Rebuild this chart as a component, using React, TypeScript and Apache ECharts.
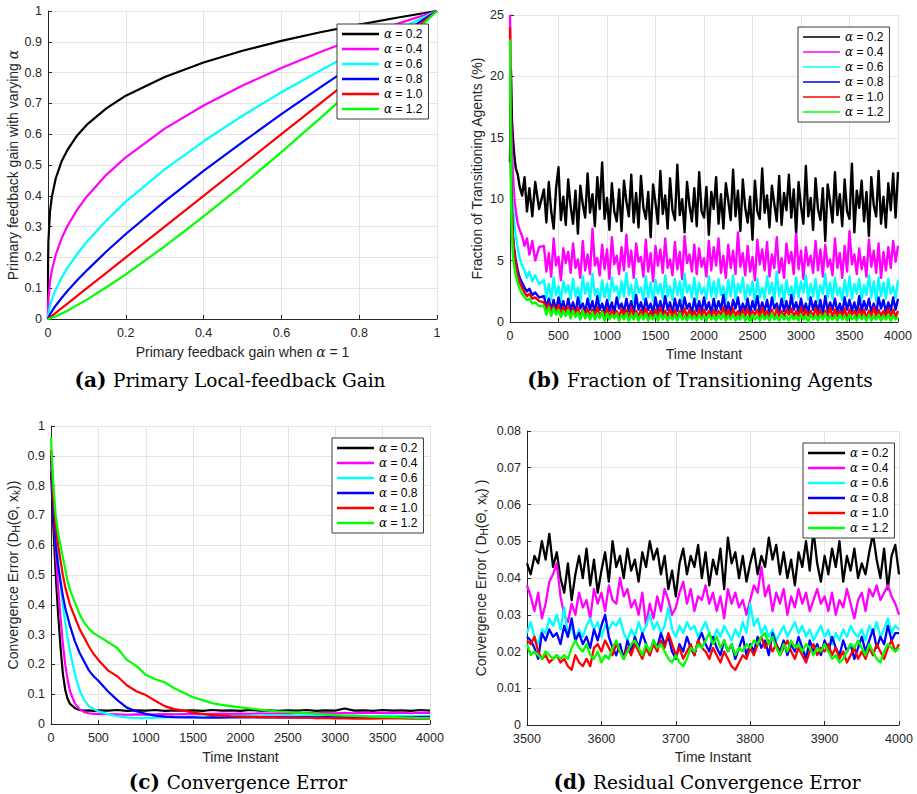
import React, { useEffect, useRef } from "react";
import * as echarts from "echarts";

const COLORS = ["#000000", "#ff00ff", "#00ffff", "#0000ff", "#ff0000", "#00ff00"];
const NAMES = ["α = 0.2", "α = 0.4", "α = 0.6", "α = 0.8", "α = 1.0", "α = 1.2"];

// ---------- (a) Primary local-feedback gain ----------
const A_X = [0, 0.0002, 0.001, 0.005, 0.01, 0.02, 0.035, 0.05, 0.075, 0.1, 0.15, 0.2, 0.3, 0.4, 0.5, 0.6, 0.7, 0.8, 0.9, 1];
const A_02 = [0, 0.182, 0.251, 0.347, 0.398, 0.457, 0.512, 0.549, 0.596, 0.631, 0.684, 0.725, 0.786, 0.833, 0.871, 0.903, 0.931, 0.956, 0.979, 1];
const A_04 = [0, 0.033, 0.063, 0.12, 0.158, 0.209, 0.262, 0.302, 0.355, 0.398, 0.468, 0.525, 0.618, 0.693, 0.758, 0.815, 0.867, 0.915, 0.959, 1];
const A_06 = [0, 0.006, 0.016, 0.042, 0.063, 0.096, 0.134, 0.166, 0.211, 0.251, 0.32, 0.381, 0.486, 0.577, 0.66, 0.736, 0.807, 0.875, 0.939, 1];
const A_08 = [0, 0.001, 0.004, 0.014, 0.025, 0.044, 0.068, 0.091, 0.126, 0.158, 0.219, 0.276, 0.382, 0.481, 0.574, 0.665, 0.752, 0.837, 0.919, 1];
const A_10 = [0, 0.0002, 0.001, 0.005, 0.01, 0.02, 0.035, 0.05, 0.075, 0.1, 0.15, 0.2, 0.3, 0.4, 0.5, 0.6, 0.7, 0.8, 0.9, 1];
const A_12 = [0, 0.00004, 0.0003, 0.0017, 0.004, 0.009, 0.018, 0.027, 0.045, 0.063, 0.103, 0.145, 0.236, 0.333, 0.435, 0.542, 0.652, 0.765, 0.881, 1];

// ---------- (b) Fraction of transitioning agents (%) ----------
const B_T_EARLY = [0, 10, 20, 30, 45, 60, 80, 100, 125, 150, 175, 200, 230, 260, 300];
const B_T_START = 350; // steady part sampled every 25 time instants, 350..4000
const B_T_STEP = 25;
const B_02 = [
  13, 20.5, 16.5, 15, 13.5, 12.5, 12, 11, 10.3, 11.8, 9.0, 10.9, 8.6, 11.4, 9.2,
  10.8, 8.1, 11.4, 9.0, 7.6, 10.9, 12.6, 8.3, 10.2, 7.9,
  11.6, 9.4, 8.0, 10.7, 7.2, 11.1, 9.6, 8.5, 12.1, 8.9,
  10.4, 7.8, 11.8, 9.2, 13.0, 8.4, 10.1, 7.5, 11.3, 9.0,
  8.2, 10.8, 7.4, 11.5, 9.8, 8.6, 12.0, 8.1, 10.5, 7.7,
  11.9, 9.3, 8.4, 10.6, 6.9, 11.2, 9.7, 8.0, 12.3, 8.8,
  10.3, 7.6, 11.7, 9.1, 8.3, 12.8, 8.7, 10.0, 7.3, 11.4,
  9.5, 8.2, 10.9, 7.8, 12.2, 9.0, 8.5, 11.0, 7.1, 10.6,
  9.2, 11.8, 8.0, 10.4, 7.6, 11.3, 9.9, 8.3, 12.4, 8.6,
  10.7, 7.4, 11.6, 9.3, 8.1, 10.2, 6.7, 11.5, 9.0, 8.4,
  12.5, 8.9, 10.3, 7.7, 11.1, 9.6, 8.2, 11.9, 7.9, 10.5,
  9.1, 12.0, 8.5, 10.8, 7.2, 11.4, 9.4, 8.0, 12.7, 8.6,
  10.1, 7.5, 11.7, 9.2, 8.3, 10.9, 6.6, 11.2, 9.8, 8.1,
  12.2, 8.7, 10.4, 7.8, 11.6, 9.0, 8.4, 12.9, 7.3, 10.7,
  9.3, 11.5, 8.2, 10.6, 7.0, 11.8, 9.5, 8.6, 12.3, 8.0,
  10.2, 7.7, 11.3, 9.1, 12.1, 8.5, 12.2,
];
const B_04 = [
  25, 17, 14, 12, 10, 9, 8, 7.5, 7, 6.2, 6.8, 5.5, 6.6, 5.0, 6.1,
  6.2, 4.1, 5.6, 3.7, 6.8, 4.6, 5.3, 3.4, 6.0, 4.8,
  5.7, 4.0, 6.4, 4.4, 5.1, 3.6, 6.6, 4.2, 5.5, 3.9,
  7.6, 4.6, 5.2, 3.8, 6.3, 4.3, 5.9, 3.5, 6.9, 4.7,
  5.4, 3.9, 6.1, 4.2, 7.1, 4.5, 5.8, 3.6, 6.4, 4.9,
  5.3, 3.7, 6.7, 4.1, 5.6, 3.3, 6.2, 4.6, 5.9, 4.0,
  6.8, 4.4, 5.1, 3.8, 6.5, 4.3, 5.7, 3.5, 7.0, 4.8,
  5.5, 4.1, 6.3, 3.9, 6.0, 4.5, 5.2, 3.7, 6.6, 4.2,
  6.1, 4.6, 6.8, 4.0, 5.4, 3.6, 6.3, 4.4, 5.8, 3.9,
  7.3, 4.5, 5.6, 3.8, 6.2, 4.1, 5.3, 3.4, 6.7, 4.7,
  5.9, 4.2, 6.5, 3.7, 5.5, 4.4, 6.9, 4.0, 5.2, 3.6,
  6.4, 4.8, 5.7, 3.9, 7.2, 4.3, 5.8, 3.5, 6.1, 4.6,
  5.4, 4.0, 6.6, 4.2, 5.9, 3.7, 6.3, 4.5, 5.1, 3.8,
  6.8, 4.4, 5.6, 3.6, 6.2, 4.1, 7.4, 4.7, 5.5, 3.9,
  6.0, 4.3, 5.3, 3.7, 6.7, 4.5, 5.8, 4.0, 6.4, 3.6,
  5.7, 4.2, 6.1, 4.4, 6.6, 4.9, 6.2,
];
const B_06 = [
  19, 14, 11, 9.5, 8, 7, 6, 5.2, 4.6, 4.2, 3.6, 4.1, 3.3, 3.8, 3.1,
  3.4, 2.0, 3.1, 1.8, 3.6, 2.2, 2.9, 1.7, 3.3, 2.4,
  3.0, 1.9, 3.5, 2.1, 2.8, 1.6, 3.7, 2.3, 3.2, 1.8,
  3.9, 2.2, 2.7, 1.7, 3.4, 2.0, 3.1, 1.8, 3.6, 2.5,
  2.9, 1.9, 3.3, 2.1, 4.0, 2.2, 3.0, 1.6, 3.5, 2.4,
  2.8, 1.8, 3.7, 2.0, 3.2, 1.7, 3.4, 2.3, 3.1, 1.9,
  3.8, 2.1, 2.9, 1.8, 3.5, 2.2, 3.3, 1.7, 3.9, 2.4,
  3.0, 2.0, 3.6, 1.8, 3.2, 2.3, 2.8, 1.9, 3.7, 2.1,
  3.3, 2.0, 3.5, 2.2, 2.9, 1.7, 3.4, 2.1, 3.8, 1.9,
  3.1, 2.4, 3.6, 1.8, 3.0, 2.2, 3.3, 1.6, 3.5, 2.0,
  2.8, 1.9, 3.7, 2.3, 3.2, 1.8, 4.1, 2.1, 3.0, 1.7,
  3.4, 2.2, 2.9, 1.9, 3.6, 2.0, 3.3, 2.4, 3.8, 1.8,
  3.1, 2.1, 3.5, 1.7, 3.0, 2.3, 3.9, 2.0, 3.2, 1.9,
  3.6, 2.2, 2.8, 1.8, 3.4, 2.1, 3.7, 1.9, 3.1, 2.3,
  3.5, 1.8, 3.0, 2.2, 3.8, 2.0, 3.3, 1.7, 3.6, 2.1,
  3.2, 1.9, 3.5, 2.3, 2.9, 2.0, 3.4,
];
const B_08 = [
  20, 12, 9, 7, 5.8, 5, 4.2, 3.6, 3.2, 2.8, 2.5, 2.7, 2.2, 2.4, 2.0,
  2.1, 1.2, 1.9, 1.0, 1.8, 0.9, 2.0, 1.1, 1.7, 0.8,
  1.9, 1.0, 1.6, 0.7, 2.0, 1.1, 1.5, 0.8, 1.9, 1.0,
  1.7, 0.7, 2.1, 1.0, 1.5, 0.8, 1.8, 0.9, 1.6, 0.7,
  2.0, 1.1, 1.5, 0.8, 1.9, 0.9, 1.7, 0.6, 2.2, 1.0,
  1.6, 0.8, 1.9, 1.0, 1.5, 0.7, 2.0, 0.9, 1.7, 0.8,
  2.1, 1.0, 1.6, 0.7, 1.9, 0.9, 1.8, 0.8, 2.0, 1.1,
  1.5, 0.7, 1.9, 0.9, 1.7, 0.8, 2.0, 1.0, 1.6, 0.7,
  1.9, 0.9, 1.7, 1.0, 2.2, 0.8, 1.6, 0.7, 1.8, 1.1,
  2.0, 0.8, 1.5, 0.9, 1.9, 0.7, 1.7, 1.0, 2.1, 0.8,
  1.6, 0.9, 1.8, 0.7, 2.0, 1.1, 1.5, 0.8, 1.9, 0.9,
  1.7, 0.7, 2.2, 1.0, 1.6, 0.8, 1.9, 0.9, 1.5, 0.7,
  2.0, 1.0, 1.7, 0.8, 1.8, 0.6, 2.1, 0.9, 1.6, 1.0,
  1.9, 0.8, 1.5, 0.7, 2.0, 1.0, 1.8, 0.9, 1.6, 0.7,
  2.1, 0.9, 1.7, 1.0, 1.9, 0.8, 1.5, 0.7, 2.0, 1.1,
  1.8, 0.8, 1.6, 0.9, 2.0, 1.0, 1.9,
];
const B_10 = [
  24, 13, 9, 7, 5.5, 4.6, 3.8, 3.2, 2.8, 2.4, 2.1, 2.3, 1.9, 2.0, 1.7,
  1.6, 0.9, 1.5, 0.8, 1.3, 0.7, 1.4, 0.6, 1.2, 0.7,
  1.3, 0.5, 1.1, 0.6, 1.2, 0.4, 1.0, 0.5, 1.1, 0.4,
  1.0, 0.5, 1.2, 0.4, 0.9, 0.5, 1.1, 0.3, 1.0, 0.5,
  0.9, 0.4, 1.1, 0.5, 1.0, 0.3, 1.2, 0.5, 0.9, 0.4,
  1.0, 0.5, 1.1, 0.4, 0.9, 0.3, 1.0, 0.5, 1.2, 0.4,
  0.9, 0.5, 1.1, 0.4, 1.0, 0.3, 0.9, 0.5, 1.1, 0.4,
  1.0, 0.5, 0.9, 0.3, 1.1, 0.4, 1.0, 0.5, 0.9, 0.4,
  1.0, 0.5, 0.9, 0.6, 1.2, 0.4, 1.0, 0.3, 1.1, 0.5,
  0.9, 0.4, 1.0, 0.5, 1.1, 0.3, 0.9, 0.6, 1.0, 0.4,
  1.2, 0.5, 0.9, 0.4, 1.0, 0.3, 1.1, 0.5, 0.9, 0.4,
  1.0, 0.6, 1.1, 0.4, 0.9, 0.5, 1.2, 0.3, 1.0, 0.5,
  0.9, 0.4, 1.1, 0.5, 1.0, 0.3, 0.9, 0.5, 1.2, 0.4,
  1.0, 0.5, 0.9, 0.4, 1.1, 0.3, 1.0, 0.6, 0.9, 0.4,
  1.1, 0.5, 1.0, 0.3, 0.9, 0.5, 1.2, 0.4, 1.0, 0.5,
  0.9, 0.4, 1.1, 0.5, 1.0, 0.4, 0.9,
];
const B_12 = [
  23, 10, 7, 5.5, 4.5, 3.8, 3.2, 2.7, 2.3, 2.0, 1.8, 1.9, 1.5, 1.6, 1.3,
  1.3, 0.6, 1.2, 0.5, 1.1, 0.6, 1.0, 0.4, 0.9, 0.5,
  1.0, 0.3, 0.9, 0.4, 0.8, 0.2, 0.9, 0.3, 0.7, 0.2,
  0.8, 0.2, 0.7, 0.3, 0.8, 0.1, 0.7, 0.2, 0.6, 0.3,
  0.7, 0.1, 0.6, 0.2, 0.7, 0.1, 0.6, 0.2, 0.7, 0.1,
  0.6, 0.2, 0.7, 0.1, 0.5, 0.2, 0.6, 0.1, 0.7, 0.2,
  0.6, 0.1, 0.5, 0.2, 0.6, 0.1, 0.7, 0.2, 0.5, 0.1,
  0.6, 0.2, 0.5, 0.1, 0.6, 0.2, 0.5, 0.1, 0.6, 0.2,
  0.5, 0.1, 0.6, 0.2, 0.7, 0.1, 0.5, 0.2, 0.6, 0.1,
  0.5, 0.2, 0.6, 0.1, 0.5, 0.0, 0.6, 0.2, 0.5, 0.1,
  0.6, 0.2, 0.5, 0.1, 0.7, 0.2, 0.5, 0.1, 0.6, 0.2,
  0.5, 0.1, 0.6, 0.2, 0.5, 0.1, 0.6, 0.2, 0.5, 0.0,
  0.6, 0.2, 0.5, 0.1, 0.6, 0.2, 0.7, 0.1, 0.5, 0.2,
  0.5, 0.1, 0.6, 0.2, 0.5, 0.1, 0.6, 0.2, 0.5, 0.1,
  0.6, 0.2, 0.5, 0.1, 0.6, 0.1, 0.5, 0.2, 0.6, 0.1,
  0.5, 0.2, 0.6, 0.1, 0.5, 0.2, 0.4,
];

// ---------- (c) Convergence error ----------
const C_T_EARLY = [0, 25, 50, 75, 100, 125, 150, 175, 200, 250, 300, 350, 400, 450, 500];
const C_T_START = 600; // then every 100 time instants
const C_T_STEP = 100;
const C_02 = [
  0.85, 0.66, 0.5, 0.37, 0.26, 0.17, 0.115, 0.085, 0.068, 0.054, 0.047, 0.045, 0.046, 0.044, 0.046,
  0.045, 0.047, 0.044, 0.046, 0.045, 0.047, 0.044, 0.046, 0.045, 0.046,
  0.044, 0.047, 0.045, 0.046, 0.044, 0.047, 0.045, 0.046, 0.044, 0.046,
  0.045, 0.047, 0.044, 0.046, 0.045, 0.052, 0.045, 0.046, 0.044, 0.047,
  0.045, 0.046, 0.044, 0.047, 0.045,
];
const C_04 = [
  0.9, 0.72, 0.58, 0.46, 0.36, 0.27, 0.2, 0.15, 0.11, 0.07, 0.05, 0.04, 0.036, 0.034, 0.034,
  0.033, 0.032, 0.031, 0.032, 0.031, 0.032, 0.033, 0.032, 0.033, 0.034,
  0.033, 0.034, 0.035, 0.034, 0.035, 0.034, 0.036, 0.035, 0.036, 0.035,
  0.036, 0.037, 0.036, 0.037, 0.036, 0.037, 0.036, 0.038, 0.037, 0.038,
  0.037, 0.038, 0.036, 0.038, 0.037,
];
const C_06 = [
  0.9, 0.76, 0.65, 0.55, 0.47, 0.4, 0.34, 0.29, 0.245, 0.17, 0.115, 0.08, 0.06, 0.05, 0.043,
  0.033, 0.026, 0.022, 0.02, 0.02, 0.021, 0.022, 0.023, 0.024, 0.025,
  0.025, 0.026, 0.026, 0.027, 0.027, 0.028, 0.027, 0.028, 0.027, 0.028,
  0.027, 0.028, 0.027, 0.028, 0.026, 0.027, 0.028, 0.027, 0.026, 0.027,
  0.028, 0.027, 0.026, 0.027, 0.027,
];
const C_08 = [
  0.9, 0.72, 0.6, 0.53, 0.48, 0.43, 0.39, 0.36, 0.33, 0.28, 0.24, 0.21, 0.18, 0.16, 0.145,
  0.11, 0.08, 0.055, 0.043, 0.034, 0.028, 0.025, 0.023, 0.022, 0.022,
  0.021, 0.022, 0.021, 0.022, 0.023, 0.022, 0.023, 0.022, 0.023, 0.022,
  0.022, 0.023, 0.022, 0.023, 0.022, 0.023, 0.022, 0.023, 0.022, 0.023,
  0.022, 0.023, 0.022, 0.023, 0.023,
];
const C_10 = [
  0.92, 0.76, 0.66, 0.6, 0.55, 0.5, 0.46, 0.43, 0.4, 0.36, 0.32, 0.29, 0.26, 0.235, 0.215,
  0.18, 0.16, 0.13, 0.11, 0.097, 0.078, 0.06, 0.05, 0.045, 0.038,
  0.034, 0.03, 0.028, 0.026, 0.025, 0.024, 0.023, 0.022, 0.022, 0.021,
  0.021, 0.021, 0.02, 0.02, 0.019, 0.019, 0.018, 0.019, 0.018, 0.019,
  0.02, 0.019, 0.018, 0.019, 0.018,
];
const C_12 = [
  0.96, 0.8, 0.7, 0.64, 0.6, 0.56, 0.52, 0.48, 0.45, 0.41, 0.37, 0.34, 0.32, 0.305, 0.295,
  0.275, 0.255, 0.215, 0.195, 0.165, 0.15, 0.14, 0.12, 0.105, 0.09,
  0.08, 0.07, 0.064, 0.06, 0.056, 0.052, 0.048, 0.045, 0.042, 0.04,
  0.038, 0.036, 0.034, 0.032, 0.03, 0.028, 0.027, 0.026, 0.025, 0.024,
  0.023, 0.022, 0.021, 0.02, 0.02,
];

// ---------- (d) Residual convergence error (3500..4000, every 5 instants) ----------
const D_T_START = 3500;
const D_T_STEP = 5;
const D_02 = [
  0.044, 0.041, 0.046, 0.044, 0.05, 0.045, 0.052, 0.043, 0.047, 0.04,
  0.036, 0.044, 0.034, 0.041, 0.046, 0.04, 0.048, 0.038, 0.045, 0.036,
  0.042, 0.047, 0.039, 0.05, 0.043, 0.046, 0.04, 0.048, 0.042, 0.045,
  0.039, 0.047, 0.043, 0.05, 0.045, 0.048, 0.041, 0.046, 0.037, 0.042,
  0.035, 0.044, 0.048, 0.041, 0.046, 0.043, 0.049, 0.04, 0.047, 0.038,
  0.045, 0.041, 0.048, 0.037, 0.051, 0.044, 0.047, 0.04, 0.046, 0.039,
  0.044, 0.048, 0.041, 0.046, 0.043, 0.051, 0.045, 0.049, 0.041, 0.047,
  0.04, 0.045, 0.038, 0.047, 0.043, 0.05, 0.042, 0.053, 0.044, 0.039,
  0.046, 0.041, 0.048, 0.043, 0.05, 0.039, 0.046, 0.042, 0.048, 0.04,
  0.044, 0.041, 0.047, 0.052, 0.045, 0.04, 0.048, 0.037, 0.046, 0.049,
  0.041,
];
const D_04 = [
  0.038, 0.035, 0.031, 0.036, 0.029, 0.033, 0.039, 0.041, 0.044, 0.035,
  0.03, 0.028, 0.033, 0.03, 0.036, 0.032, 0.034, 0.029, 0.037, 0.033,
  0.036, 0.031, 0.038, 0.034, 0.033, 0.04, 0.035, 0.037, 0.032, 0.034,
  0.03, 0.036, 0.027, 0.033, 0.029, 0.035, 0.031, 0.037, 0.034, 0.03,
  0.032, 0.036, 0.039, 0.033, 0.037, 0.031, 0.035, 0.034, 0.038, 0.033,
  0.036, 0.031, 0.035, 0.029, 0.037, 0.033, 0.036, 0.032, 0.034, 0.03,
  0.034, 0.038, 0.036, 0.043, 0.035, 0.038, 0.031, 0.036, 0.033, 0.037,
  0.03, 0.035, 0.032, 0.037, 0.033, 0.036, 0.031, 0.034, 0.037, 0.033,
  0.035, 0.031, 0.036, 0.03, 0.034, 0.032, 0.037, 0.033, 0.029, 0.034,
  0.036, 0.031, 0.037, 0.035, 0.038, 0.034, 0.036, 0.038, 0.035, 0.033,
  0.03,
];
const D_06 = [
  0.025, 0.028, 0.024, 0.022, 0.026, 0.025, 0.029, 0.027, 0.03, 0.026,
  0.032, 0.024, 0.027, 0.023, 0.026, 0.024, 0.027, 0.029, 0.026, 0.028,
  0.024, 0.027, 0.026, 0.028, 0.027, 0.029, 0.025, 0.023, 0.026, 0.024,
  0.028, 0.025, 0.027, 0.03, 0.026, 0.028, 0.025, 0.027, 0.032, 0.026,
  0.024, 0.027, 0.025, 0.028, 0.026, 0.027, 0.024, 0.026, 0.028, 0.025,
  0.023, 0.026, 0.024, 0.027, 0.025, 0.023, 0.026, 0.024, 0.028, 0.025,
  0.033, 0.027, 0.029, 0.025, 0.027, 0.024, 0.026, 0.023, 0.025, 0.027,
  0.024, 0.026, 0.028, 0.025, 0.027, 0.024, 0.026, 0.023, 0.025, 0.027,
  0.024, 0.026, 0.022, 0.025, 0.023, 0.026, 0.024, 0.027, 0.025, 0.024,
  0.026, 0.023, 0.027, 0.025, 0.028, 0.024, 0.026, 0.029, 0.025, 0.027,
  0.026,
];
const D_08 = [
  0.024, 0.023, 0.021, 0.018, 0.025, 0.023, 0.026, 0.024, 0.025, 0.022,
  0.027, 0.024, 0.029, 0.023, 0.025, 0.022, 0.024, 0.021, 0.026, 0.023,
  0.027, 0.03, 0.024, 0.021, 0.019, 0.022, 0.018, 0.023, 0.02, 0.024,
  0.021, 0.025, 0.022, 0.019, 0.023, 0.021, 0.025, 0.022, 0.024, 0.02,
  0.018, 0.022, 0.02, 0.024, 0.021, 0.019, 0.023, 0.025, 0.022, 0.02,
  0.024, 0.021, 0.019, 0.023, 0.02, 0.022, 0.018, 0.021, 0.024, 0.019,
  0.022, 0.02, 0.024, 0.021, 0.023, 0.019, 0.025, 0.022, 0.02, 0.023,
  0.019, 0.022, 0.02, 0.024, 0.021, 0.018, 0.023, 0.02, 0.022, 0.019,
  0.023, 0.02, 0.024, 0.021, 0.019, 0.023, 0.02, 0.022, 0.018, 0.021,
  0.024, 0.02, 0.023, 0.026, 0.021, 0.024, 0.022, 0.027, 0.023, 0.025,
  0.025,
];
const D_10 = [
  0.023, 0.022, 0.024, 0.02, 0.018, 0.019, 0.017, 0.018, 0.019, 0.017,
  0.018, 0.016, 0.015, 0.019, 0.017, 0.016, 0.018, 0.016, 0.021, 0.022,
  0.02, 0.023, 0.021, 0.019, 0.022, 0.02, 0.018, 0.021, 0.019, 0.022,
  0.02, 0.018, 0.021, 0.019, 0.022, 0.02, 0.023, 0.021, 0.025, 0.022,
  0.019, 0.021, 0.018, 0.02, 0.022, 0.019, 0.023, 0.021, 0.02, 0.018,
  0.021, 0.019, 0.017, 0.02, 0.018, 0.016, 0.015, 0.017, 0.019, 0.018,
  0.021, 0.019, 0.022, 0.024, 0.021, 0.023, 0.02, 0.022, 0.019, 0.021,
  0.023, 0.02, 0.018, 0.021, 0.019, 0.017, 0.02, 0.022, 0.019, 0.021,
  0.02, 0.022, 0.019, 0.021, 0.018, 0.02, 0.017, 0.019, 0.021, 0.018,
  0.02, 0.018, 0.021, 0.019, 0.022, 0.02, 0.018, 0.021, 0.023, 0.02,
  0.022,
];
const D_12 = [
  0.022, 0.019, 0.02, 0.019, 0.018, 0.02, 0.019, 0.018, 0.019, 0.018,
  0.019, 0.018, 0.021, 0.023, 0.021, 0.02, 0.022, 0.019, 0.018, 0.02,
  0.017, 0.019, 0.018, 0.021, 0.023, 0.02, 0.018, 0.02, 0.022, 0.023,
  0.021, 0.019, 0.022, 0.02, 0.023, 0.021, 0.022, 0.02, 0.018, 0.017,
  0.019, 0.017, 0.016, 0.018, 0.021, 0.02, 0.022, 0.021, 0.023, 0.025,
  0.022, 0.024, 0.021, 0.023, 0.02, 0.022, 0.019, 0.021, 0.02, 0.022,
  0.021, 0.023, 0.022, 0.024, 0.025, 0.022, 0.024, 0.021, 0.019, 0.022,
  0.02, 0.023, 0.021, 0.022, 0.02, 0.022, 0.021, 0.019, 0.021, 0.02,
  0.022, 0.02, 0.018, 0.019, 0.017, 0.018, 0.02, 0.022, 0.021, 0.023,
  0.021, 0.019, 0.022, 0.02, 0.018, 0.017, 0.02, 0.022, 0.021, 0.02,
  0.021,
];

const SANS = "'Liberation Sans', Arial, Helvetica, sans-serif";
const SERIF = "'DejaVu Serif', 'Liberation Serif', serif";
const INK = "#262626";

const pairsA = (ys: number[]) => ys.map((y, i) => [A_X[i], y]);
const pairsB = (ys: number[]) =>
  ys.map((y, i) => [i < B_T_EARLY.length ? B_T_EARLY[i] : B_T_START + B_T_STEP * (i - B_T_EARLY.length), y]);
const pairsC = (ys: number[]) =>
  ys.map((y, i) => [i < C_T_EARLY.length ? C_T_EARLY[i] : C_T_START + C_T_STEP * (i - C_T_EARLY.length), y]);
const pairsD = (ys: number[]) => ys.map((y, i) => [D_T_START + D_T_STEP * i, y]);

function axis(
  gridIndex: number,
  min: number,
  max: number,
  interval: number,
  name: string,
  nameGap: number,
  isY: boolean,
  plain: boolean
) {
  return {
    type: "value",
    gridIndex,
    min,
    max,
    interval,
    name,
    nameLocation: "middle",
    nameGap,
    nameTextStyle: {
      color: INK,
      fontSize: 14,
      fontFamily: SANS,
      rich: {
        a: { fontFamily: SERIF, fontStyle: "italic", fontSize: 14, color: INK },
        s: { fontSize: 10, fontFamily: SANS, color: INK, verticalAlign: "bottom", padding: [7, 0, 0, 0] },
      },
    },
    axisLine: { show: true, onZero: false, lineStyle: { color: INK, width: 1 } },
    axisTick: { show: true, inside: true, length: 4, lineStyle: { color: INK } },
    axisLabel: {
      color: INK,
      fontSize: 12.5,
      fontFamily: SANS,
      margin: isY ? 6 : 7,
      formatter: plain ? (v: number) => String(v) : undefined,
    },
    splitLine: { show: true, lineStyle: { color: "#e4e4e4", width: 1 } },
  };
}

function legend(left: number, top: number, thin: boolean) {
  return {
    show: true,
    orient: "vertical",
    left,
    top,
    z: 20,
    data: NAMES,
    icon: "rect",
    itemWidth: 37,
    itemHeight: thin ? 1.5 : 2.6,
    itemGap: 3,
    padding: [4, 6, 4, 5],
    backgroundColor: "#ffffff",
    borderColor: "#3a3a3a",
    borderWidth: 1,
    borderRadius: 0,
    selectedMode: false,
    formatter: (n: string) => "{a|α}" + n.slice(1),
    textStyle: {
      color: "#000",
      fontSize: 12,
      fontFamily: SANS,
      rich: { a: { fontFamily: SERIF, fontStyle: "italic", fontSize: 12, color: "#000" } },
    },
  };
}

function caption(letter: string, text: string, x: number, y: number) {
  return {
    type: "text",
    x,
    y,
    style: {
      text: "{b|(" + letter + ")}  {n|" + text + "}",
      align: "center",
      verticalAlign: "middle",
      rich: {
        b: { fontFamily: SERIF, fontWeight: "bold", fontSize: 20, fill: "#000" },
        n: { fontFamily: SERIF, fontSize: 18.5, fill: "#000" },
      },
    },
  };
}

export default function App() {
  const ref = useRef<HTMLDivElement>(null);
  useEffect(() => {
    if (!ref.current) return;
    const chart = echarts.init(ref.current, null, { renderer: "svg", width: 917, height: 794 });

    const A = [A_02, A_04, A_06, A_08, A_10, A_12];
    const B = [B_02, B_04, B_06, B_08, B_10, B_12];
    const C = [C_02, C_04, C_06, C_08, C_10, C_12];
    const D = [D_02, D_04, D_06, D_08, D_10, D_12];

    const mk = (data: number[][], i: number, gi: number, w: number, join: string) => ({
      type: "line",
      name: NAMES[i],
      xAxisIndex: gi,
      yAxisIndex: gi,
      data,
      symbol: "none",
      showSymbol: false,
      silent: true,
      color: COLORS[i],
      lineStyle: { color: COLORS[i], width: w, join },
      z: 2,
    });

    const series: any[] = [];
    A.forEach((ys, i) => series.push(mk(pairsA(ys), i, 0, 2.2, "round")));
    B.forEach((ys, i) => series.push(mk(pairsB(ys), i, 1, 2.4, "round")));
    C.forEach((ys, i) => series.push(mk(pairsC(ys), i, 2, 2.2, "round")));
    D.forEach((ys, i) => series.push(mk(pairsD(ys), i, 3, 2.3, "round")));

    chart.setOption({
      animation: false,
      backgroundColor: "#ffffff",
      grid: [
        { left: 48, top: 11, width: 389, height: 308, containLabel: false },
        { left: 510, top: 15, width: 388, height: 307, containLabel: false },
        { left: 51, top: 426, width: 379, height: 298, containLabel: false },
        { left: 527, top: 431, width: 372, height: 294, containLabel: false },
      ],
      xAxis: [
        axis(0, 0, 1, 0.2, "Primary feedback gain when {a|α} = 1", 26, false, false),
        axis(1, 0, 4000, 500, "Time Instant", 25, false, true),
        axis(2, 0, 4000, 500, "Time Instant", 26, false, true),
        axis(3, 3500, 4000, 100, "Time Instant", 25, false, true),
      ],
      yAxis: [
        axis(0, 0, 1, 0.1, "Primary feedback gain with varying {a|α}", 28, true, false),
        axis(1, 0, 25, 5, "Fraction of Transitioning Agents (%)", 26, true, false),
        axis(2, 0, 1, 0.1, "Convergence Error (D{s|H}(Θ, x{s|k}))", 30, true, false),
        axis(3, 0, 0.08, 0.01, "Convergence Error ( D{s|H}(Θ, x{s|k}) )", 38, true, false),
      ],
      legend: [legend(337, 24, false), legend(798, 27, true), legend(332, 438, false), legend(803, 443, false)],
      series,
      graphic: [
        caption("a", "Primary Local-feedback Gain", 230, 380),
        caption("b", "Fraction of Transitioning Agents", 700, 380),
        caption("c", "Convergence Error", 238, 782),
        caption("d", "Residual Convergence Error", 707, 782),
      ],
    });
    return () => chart.dispose();
  }, []);
  return <div ref={ref} style={{ position: "fixed", left: 0, top: 0, width: 917, height: 794, background: "#fff" }} />;
}
